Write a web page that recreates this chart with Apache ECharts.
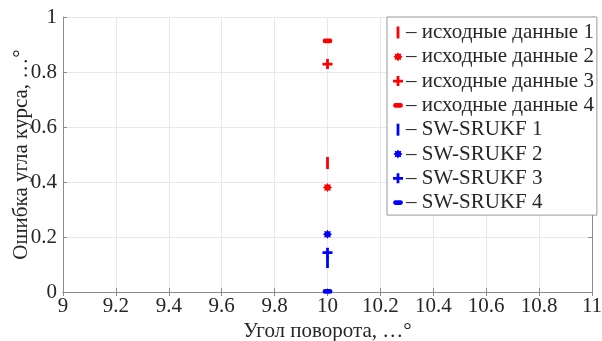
<!DOCTYPE html>
<html>
<head>
<meta charset="UTF-8">
<title>chart</title>
<script src="https://cdn.jsdelivr.net/npm/echarts@6/dist/echarts.min.js"></script>
<style>
  html, body { margin: 0; padding: 0; background: #fff; }
  #main { width: 602px; height: 341px; }
</style>
</head>
<body>
<div id="main"></div>
<script type="text/javascript">
// данные
var seriesNames = ['исходные данные 1', 'исходные данные 2', 'исходные данные 3', 'исходные данные 4',
                   'SW-SRUKF 1', 'SW-SRUKF 2', 'SW-SRUKF 3', 'SW-SRUKF 4'];
var xValues = [10, 10, 10, 10, 10, 10, 10, 10];
var yValues = [0.469, 0.380, 0.829, 0.913, 0.109, 0.210, 0.143, 0.002];
var xTicks = [9, 9.2, 9.4, 9.6, 9.8, 10, 10.2, 10.4, 10.6, 10.8, 11];
var yTicks = [0, 0.2, 0.4, 0.6, 0.8, 1];

var red = '#ff0000', blue = '#0000ff';
var font = 'Liberation Serif, Times New Roman, serif';

// маркеры в рамке 12x12: палочка, звёздочка, плюс, тире
var box = 'M0,0M12,12';
var markers = [
    'path://' + box + 'M4.6,0H7.4V12H4.6Z',
    'path://' + box + 'M10.6,6L8.8,7.2L9.3,9.3L7.2,8.8L6,10.6L4.8,8.8L2.7,9.3L3.2,7.2L1.4,6L3.2,4.8L2.7,2.7L4.8,3.2L6,1.4L7.2,3.2L9.3,2.7L8.8,4.8Z',
    'path://' + box + 'M4.6,1H7.4V4.6H11V7.4H7.4V11H4.6V7.4H1V4.6H4.6Z',
    'path://' + box + 'M3.5,3.6H8.5A2.4,2.4 0 0 1 8.5,8.4H3.5A2.4,2.4 0 0 1 3.5,3.6Z'
];

var series = [];
for (var i = 0; i < seriesNames.length; i++) {
    var c = i < 4 ? red : blue;
    series.push({
        name: seriesNames[i],
        type: 'scatter',
        symbol: markers[i % 4],
        symbolSize: 12,
        itemStyle: { color: c, opacity: 1 },
        data: [[xValues[i], yValues[i]]],
        z: 3
    });
}

var axisGray = '#8c8c8c';
var textColor = '#262626';

var myChart = echarts.init(document.getElementById('main'));
var option = {
    animation: false,
    backgroundColor: '#fff',
    grid: { left: 63, top: 17, right: 10, bottom: 49, containLabel: false, outerBoundsMode: 'none' },
    legend: {
        orient: 'vertical',
        left: 387,
        top: 17,
        padding: [5, 3, 2, 5],
        backgroundColor: '#fff',
        borderColor: '#999',
        borderWidth: 1,
        itemWidth: 12,
        itemHeight: 12,
        itemGap: 3.3,
        data: seriesNames,
        formatter: function (name) { return '\u2013 ' + name; },
        textStyle: {
            fontFamily: font, fontSize: 21, color: textColor, lineHeight: 21,
            padding: [0, 0, 0, -3]
        }
    },
    xAxis: [{
        type: 'value', min: 9, max: 11, interval: 0.2,
        name: 'Угол поворота, …°', nameLocation: 'middle', nameGap: 29, nameMoveOverlap: false,
        nameTextStyle: { fontFamily: font, fontSize: 21, color: textColor },
        axisLine: { lineStyle: { color: axisGray } },
        axisTick: { inside: true, length: 4, lineStyle: { color: axisGray } },
        axisLabel: {
            fontFamily: font, fontSize: 21, color: textColor, margin: 4,
            formatter: function (v) { return xTicks.indexOf(Math.round(v * 10) / 10) >= 0 ? String(Math.round(v * 10) / 10) : ''; }
        },
        splitLine: { show: true, lineStyle: { color: '#e8e8e8' } }
    }, {
        type: 'value', min: 9, max: 11, interval: 0.2, position: 'top',
        axisLine: { lineStyle: { color: axisGray } },
        axisTick: { inside: true, length: 4, lineStyle: { color: axisGray } },
        axisLabel: { show: false }, splitLine: { show: false }
    }],
    yAxis: [{
        type: 'value', min: 0, max: 1, interval: 0.2,
        name: 'Ошибка угла курса, …°', nameLocation: 'middle', nameGap: 31, nameMoveOverlap: false,
        nameTextStyle: { fontFamily: font, fontSize: 21, color: textColor },
        axisLine: { show: true, lineStyle: { color: axisGray } },
        axisTick: { show: true, inside: true, length: 4, lineStyle: { color: axisGray } },
        axisLabel: {
            fontFamily: font, fontSize: 21, color: textColor, margin: 6,
            formatter: function (v) { return yTicks.indexOf(Math.round(v * 10) / 10) >= 0 ? String(Math.round(v * 10) / 10) : ''; }
        },
        splitLine: { show: true, lineStyle: { color: '#e8e8e8' } }
    }, {
        type: 'value', min: 0, max: 1, interval: 0.2, position: 'right',
        axisLine: { show: true, lineStyle: { color: axisGray } },
        axisTick: { show: true, inside: true, length: 4, lineStyle: { color: axisGray } },
        axisLabel: { show: false }, splitLine: { show: false }
    }],
    series: series
};
myChart.setOption(option);
</script>
</body>
</html>
